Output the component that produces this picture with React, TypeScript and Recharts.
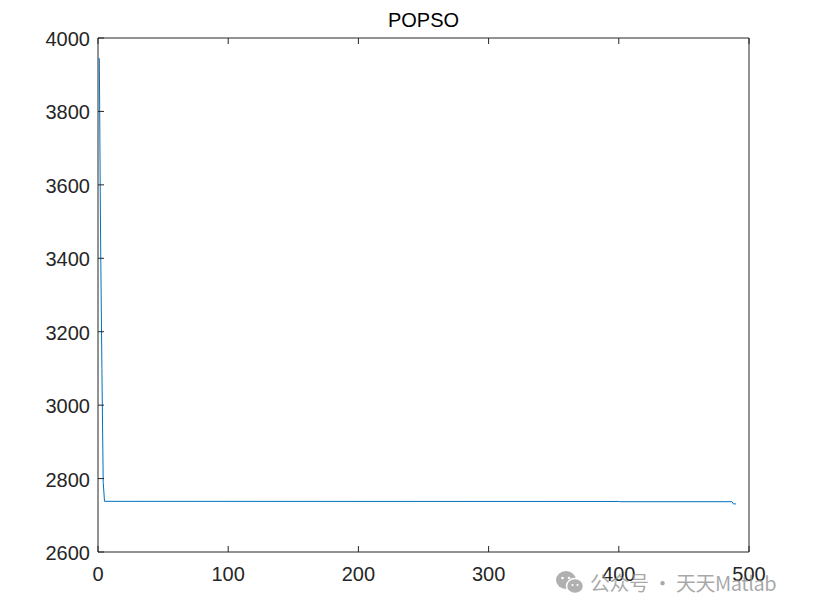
import React from 'react';
import { LineChart, Line, XAxis, YAxis } from 'recharts';

const iterations = [1, 2, 3, 4, 5, 400, 401, 487, 488, 490];
const fitness = [3945, 3450, 3100, 2790, 2738, 2737.6, 2737, 2737, 2731, 2731];
const xTicks = [0, 100, 200, 300, 400, 500];
const yTicks = [2600, 2800, 3000, 3200, 3400, 3600, 3800, 4000];
const title = 'POPSO';
const watermark = '公众号 · 天天Matlab';

const data = iterations.map((it, i) => ({ it, v: fitness[i] }));

const AX = '#262626';
const FONT = '"Liberation Sans", Arial, sans-serif';

const LeftTick = (props: any) => {
  const { x, y, payload } = props;
  return (
    <g>
      <line x1={x} y1={y} x2={x + 6} y2={y} stroke={AX} strokeWidth={1} />
      <text x={x - 8} y={y + 1} dy="0.35em" textAnchor="end" fontSize={20} fill={AX} fontFamily={FONT}>
        {payload.value}
      </text>
    </g>
  );
};
const RightTick = (props: any) => {
  const { x, y } = props;
  return <line x1={x - 6} y1={y} x2={x} y2={y} stroke={AX} strokeWidth={1} />;
};
const BottomTick = (props: any) => {
  const { x, y, payload } = props;
  return (
    <g>
      <line x1={x} y1={y} x2={x} y2={y - 6} stroke={AX} strokeWidth={1} />
      <text x={x} y={y + 15} dy="0.71em" textAnchor="middle" fontSize={20} fill={AX} fontFamily={FONT}>
        {payload.value}
      </text>
    </g>
  );
};
const TopTick = (props: any) => {
  const { x, y } = props;
  return <line x1={x} y1={y} x2={x} y2={y + 6} stroke={AX} strokeWidth={1} />;
};

export default function App() {
  return (
    <div style={{ position: 'absolute', left: 0, top: 0, width: 826, height: 616, background: '#fff' }}>
      <LineChart width={826} height={616} data={data} margin={{ top: 0, right: 0, left: 0, bottom: 0 }}>
        <XAxis
          xAxisId="b"
          dataKey="it"
          type="number"
          domain={[0, 500]}
          ticks={xTicks}
          height={64}
          tickSize={0}
          tickMargin={0}
          tickLine={false}
          axisLine={{ stroke: AX }}
          tick={<BottomTick />}
          interval={0}
          allowDataOverflow
        />
        <XAxis
          xAxisId="t"
          orientation="top"
          dataKey="it"
          type="number"
          domain={[0, 500]}
          ticks={xTicks}
          height={38}
          tickSize={0}
          tickMargin={0}
          tickLine={false}
          axisLine={{ stroke: AX }}
          tick={<TopTick />}
          interval={0}
        />
        <YAxis
          yAxisId="l"
          type="number"
          domain={[2600, 4000]}
          ticks={yTicks}
          width={98}
          tickSize={0}
          tickMargin={0}
          tickLine={false}
          axisLine={{ stroke: AX }}
          tick={<LeftTick />}
          interval={0}
          allowDataOverflow
        />
        <YAxis
          yAxisId="r"
          orientation="right"
          type="number"
          domain={[2600, 4000]}
          ticks={yTicks}
          width={77}
          tickSize={0}
          tickMargin={0}
          tickLine={false}
          axisLine={{ stroke: AX }}
          tick={<RightTick />}
          interval={0}
        />
        <Line
          xAxisId="b"
          yAxisId="l"
          type="linear"
          dataKey="v"
          stroke="#0072BD"
          strokeWidth={1}
          dot={false}
          isAnimationActive={false}
        />
      </LineChart>
      <div
        style={{
          position: 'absolute',
          left: 98,
          width: 651,
          top: 8,
          textAlign: 'center',
          fontFamily: FONT,
          fontSize: 20,
          color: '#000',
          lineHeight: '24px',
        }}
      >
        {title}
      </div>
      <svg style={{ position: 'absolute', left: 554, top: 569 }} width={32} height={28}>
        <ellipse cx={12} cy={11} rx={10} ry={9} fill="#b0b0b0" />
        <ellipse cx={21} cy={17} rx={8.5} ry={7.5} fill="#b0b0b0" stroke="#fff" strokeWidth={1.5} />
        <circle cx={8.5} cy={9} r={1.3} fill="#fff" />
        <circle cx={15} cy={9} r={1.3} fill="#fff" />
        <circle cx={18.5} cy={16} r={1.1} fill="#fff" />
        <circle cx={23.5} cy={16} r={1.1} fill="#fff" />
      </svg>
      <div
        style={{
          position: 'absolute',
          left: 590,
          top: 569,
          fontFamily: '"Noto Sans CJK SC", "Noto Sans", sans-serif',
          fontSize: 20,
          lineHeight: '28px',
          letterSpacing: '-0.5px',
          color: 'rgba(140,140,140,0.75)',
          whiteSpace: 'nowrap',
        }}
      >
        {watermark}
      </div>
    </div>
  );
}
